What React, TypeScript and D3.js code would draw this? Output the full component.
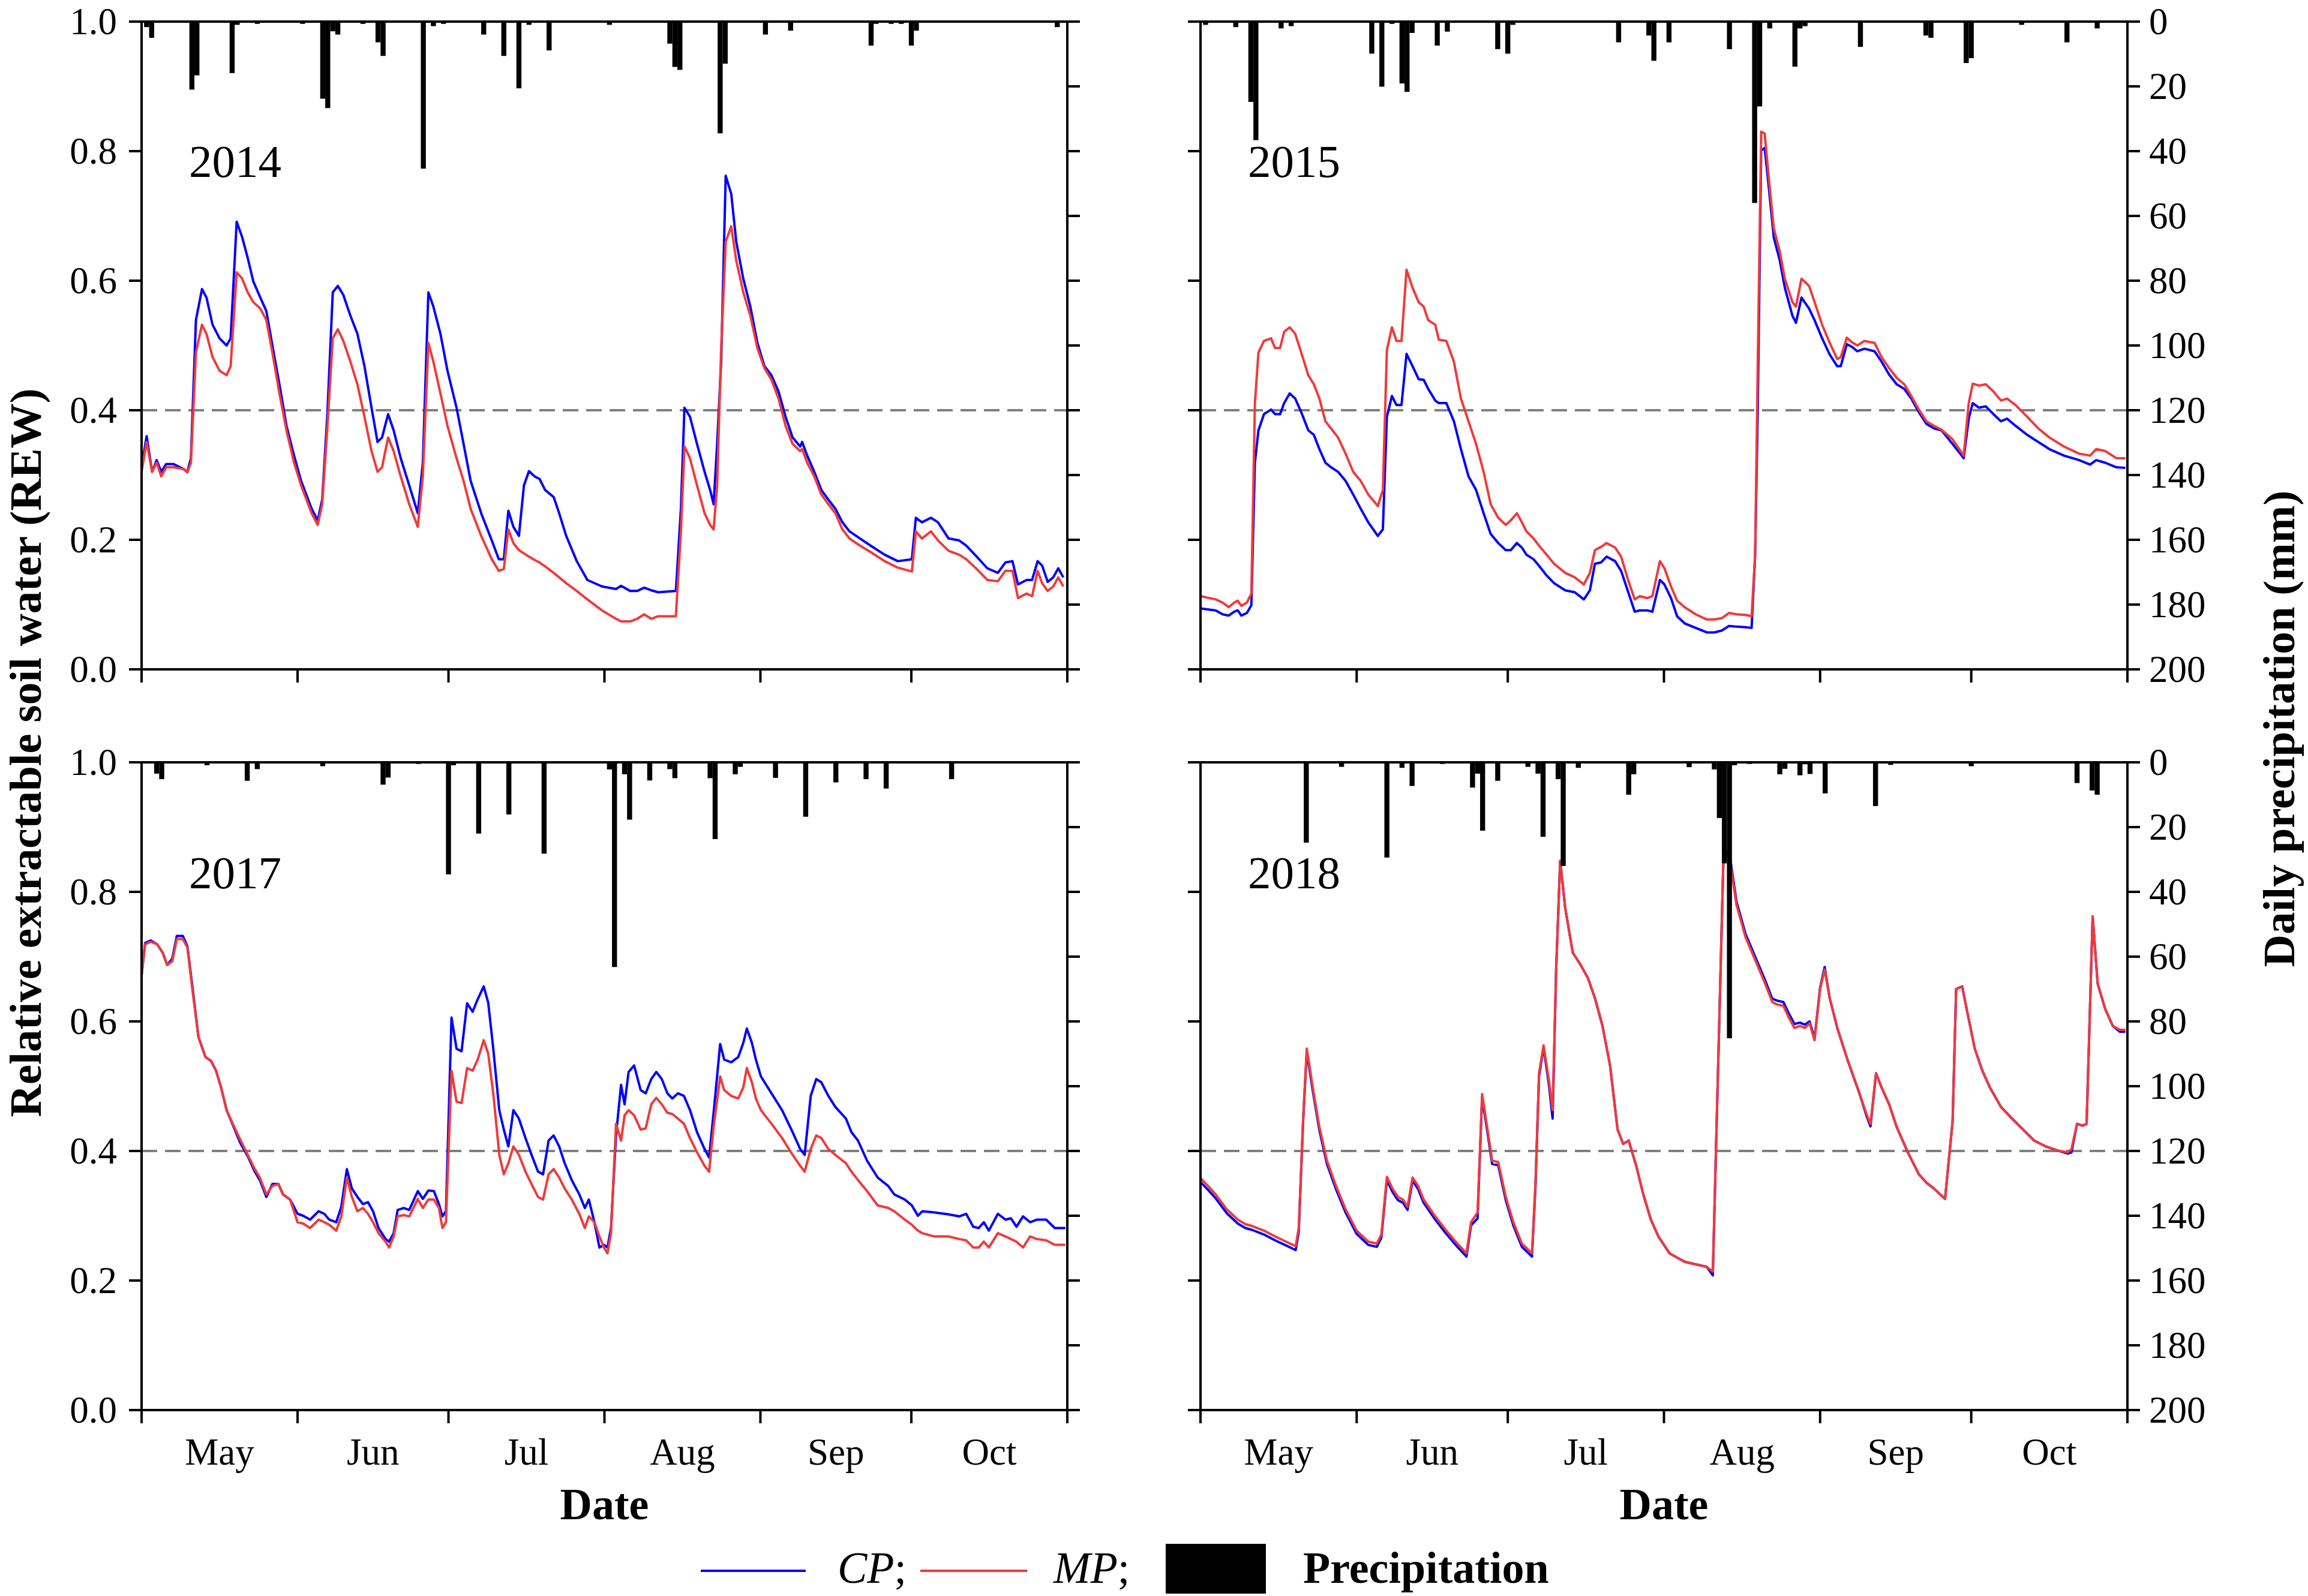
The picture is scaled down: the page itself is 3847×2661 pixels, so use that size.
import * as d3 from "d3";
import React from "react";

const WIDTH = 3847;
const HEIGHT = 2661;
const FONT = '"Liberation Serif", "Times New Roman", serif';

const monthNames = ["May", "Jun", "Jul", "Aug", "Sep", "Oct"];
const monthStarts = [0, 31, 61, 92, 123, 153, 184];
const rewTicks = [0, 0.2, 0.4, 0.6, 0.8, 1.0];
const rainTicks = [0, 20, 40, 60, 80, 100, 120, 140, 160, 180, 200];

// ---- 2014 ----
const days2014 = [
  0, 1.0, 2.1, 3.0, 3.9, 4.9, 6.3, 8.4, 9.1, 9.8,
  10.8, 12.0, 12.9, 14.1, 15.5, 16.9, 17.7, 18.9, 20.0, 21.1,
  22.2, 23.6, 24.8, 26.0, 27.4, 28.8, 30.3, 31.7, 33.8, 35.0,
  35.9, 36.9, 38.0, 39.0, 40.1, 41.5, 42.9, 44.3, 45.7, 46.9,
  47.8, 49.0, 50.1, 51.5, 53.2, 54.9, 55.9, 57.0, 58.0, 59.4,
  60.8, 62.6, 64.0, 65.4, 67.5, 69.6, 71.0, 72.0, 72.9, 73.9,
  75.0, 76.0, 77.0, 78.1, 79.1, 80.2, 81.9, 83.0, 84.4, 86.5,
  88.6, 91.5, 94.3, 95.3, 97.1, 98.5, 99.9, 101.3, 102.7, 106.2,
  107.2, 107.9, 109.0, 110.4, 111.9, 113.0, 113.7, 114.4, 115.2, 116.1,
  117.2, 118.2, 119.6, 121.0, 122.4, 123.8, 125.2, 126.6, 128.0, 129.4,
  130.9, 131.3, 132.3, 133.7, 135.1, 136.5, 137.9, 139.3, 140.7, 142.8,
  144.9, 147.7, 150.3, 153.1, 153.9, 155.1, 156.9, 158.3, 160.4, 162.5,
  163.9, 166.0, 168.1, 170.2, 171.7, 173.1, 174.2, 175.9, 177.0, 178.1,
  179.0, 180.1, 181.2, 182.2, 183.2,
];
const cp2014 = [
  0.312, 0.36, 0.305, 0.323, 0.305, 0.317, 0.317, 0.309, 0.305, 0.326,
  0.539, 0.587, 0.574, 0.532, 0.511, 0.5, 0.511, 0.691, 0.667, 0.635,
  0.599, 0.574, 0.553, 0.5, 0.44, 0.376, 0.33, 0.291, 0.248, 0.23,
  0.262, 0.39, 0.582, 0.592, 0.578, 0.546, 0.518, 0.468, 0.404, 0.351,
  0.358, 0.394, 0.369, 0.326, 0.284, 0.241, 0.319, 0.582, 0.56, 0.518,
  0.461, 0.404, 0.348, 0.291, 0.241, 0.199, 0.17, 0.17, 0.245, 0.22,
  0.206, 0.284, 0.306, 0.298, 0.294, 0.277, 0.266, 0.241, 0.206, 0.167,
  0.138, 0.128, 0.124, 0.129, 0.121, 0.121, 0.126, 0.122, 0.119, 0.121,
  0.248, 0.404, 0.39, 0.348, 0.305, 0.277, 0.255, 0.348, 0.475, 0.762,
  0.734, 0.66, 0.603, 0.56, 0.504, 0.468, 0.454, 0.429, 0.39, 0.358,
  0.344, 0.351, 0.33, 0.305, 0.277, 0.262, 0.248, 0.227, 0.213, 0.202,
  0.191, 0.177, 0.167, 0.17, 0.234, 0.227, 0.234, 0.227, 0.202, 0.199,
  0.191, 0.174, 0.156, 0.149, 0.165, 0.167, 0.131, 0.138, 0.138, 0.167,
  0.16, 0.135, 0.142, 0.156, 0.142,
];
const mp2014 = [
  0.305, 0.351, 0.305, 0.319, 0.298, 0.312, 0.312, 0.309, 0.304, 0.319,
  0.489, 0.532, 0.518, 0.482, 0.461, 0.454, 0.468, 0.613, 0.603, 0.582,
  0.567, 0.557, 0.539, 0.489, 0.426, 0.369, 0.319, 0.284, 0.241, 0.223,
  0.255, 0.37, 0.511, 0.525, 0.507, 0.475, 0.44, 0.39, 0.337, 0.305,
  0.312, 0.358, 0.337, 0.298, 0.255, 0.22, 0.298, 0.504, 0.475, 0.426,
  0.376, 0.326, 0.291, 0.248, 0.206, 0.17, 0.152, 0.155, 0.216, 0.195,
  0.184, 0.179, 0.174, 0.169, 0.165, 0.159, 0.149, 0.142, 0.133, 0.121,
  0.108, 0.091, 0.078, 0.074, 0.074, 0.078, 0.085, 0.078, 0.082, 0.082,
  0.213, 0.344, 0.326, 0.284, 0.241, 0.223, 0.216, 0.284, 0.496, 0.66,
  0.684, 0.631, 0.582, 0.546, 0.496, 0.465, 0.447, 0.418, 0.376, 0.348,
  0.337, 0.34, 0.319, 0.298, 0.27, 0.255, 0.241, 0.216, 0.202, 0.191,
  0.181, 0.167, 0.157, 0.151, 0.213, 0.202, 0.213, 0.199, 0.183, 0.177,
  0.17, 0.155, 0.138, 0.136, 0.152, 0.152, 0.11, 0.117, 0.113, 0.152,
  0.133, 0.121, 0.128, 0.142, 0.128,
];
const rainDays2014 = [
  1, 2, 10, 11, 18, 19, 23, 32, 36, 37, 38, 39, 44, 47, 48, 56, 58, 60, 68, 72,
  75, 77, 81, 93, 105, 106, 107, 115, 116, 124, 129, 145, 146, 149, 151, 153, 154, 182,
];
const rain2014 = [
  1.7, 5, 21, 16.6, 15.9, 1, 0.7, 0.7, 23.8, 26.7, 3, 4, 0.7, 6.4, 10.6, 45.4, 1.4, 0.7, 4, 10.6,
  20.6, 1, 8.9, 1, 6.8, 14, 14.9, 34.5, 13, 4, 2.8, 7.4, 0.7, 0.7, 0.7, 7.4, 2.8, 1.7,
];

// ---- 2015 ----
const days2015 = [
  0, 3.0, 4.4, 5.6, 6.7, 7.4, 8.1, 9.2, 10.1, 10.8,
  11.5, 12.6, 14.0, 14.8, 15.8, 16.6, 17.7, 18.8, 20.0, 21.4,
  22.5, 23.6, 24.8, 25.9, 27.3, 28.8, 30.3, 31.8, 33.3, 35.2,
  36.2, 37.0, 38.0, 38.9, 39.9, 40.9, 42.1, 43.3, 44.3, 45.2,
  46.6, 47.3, 48.8, 50.3, 51.7, 53.2, 54.7, 56.2, 57.6, 59.1,
  60.6, 61.6, 62.8, 63.8, 64.7, 66.1, 67.2, 68.7, 70.2, 72.4,
  74.3, 76.1, 77.3, 78.3, 79.5, 80.6, 82.3, 83.5, 85.0, 86.2,
  87.2, 88.7, 89.7, 91.2, 92.1, 93.4, 94.6, 96.1, 98.3, 100.5,
  102.0, 103.5, 104.9, 106.4, 108.2, 109.4, 110.1, 110.6, 111.3, 112.0,
  112.8, 113.8, 115.0, 116.0, 117.5, 118.2, 119.3, 120.8, 121.9, 123.4,
  124.9, 126.4, 127.1, 128.3, 129.3, 130.4, 131.8, 133.8, 135.2, 136.7,
  138.2, 139.7, 141.1, 142.6, 144.1, 145.6, 147.1, 149.3, 151.5, 152.5,
  153.3, 154.5, 155.9, 157.4, 158.9, 160.1, 161.8, 164.1, 166.3, 168.5,
  171.4, 174.4, 176.6, 177.8, 179.6, 181.8, 183.6,
];
const cp2015 = [
  0.094, 0.091, 0.085, 0.083, 0.089, 0.091, 0.083, 0.087, 0.099, 0.319,
  0.369, 0.394, 0.401, 0.394, 0.394, 0.411, 0.426, 0.418, 0.397, 0.369,
  0.362, 0.34, 0.319, 0.312, 0.305, 0.291, 0.27, 0.248, 0.227, 0.206,
  0.216, 0.39, 0.422, 0.408, 0.408, 0.487, 0.468, 0.448, 0.447, 0.433,
  0.415, 0.411, 0.411, 0.383, 0.34, 0.298, 0.277, 0.241, 0.209, 0.195,
  0.184, 0.184, 0.195, 0.188, 0.177, 0.17, 0.16, 0.145, 0.133, 0.122,
  0.119, 0.108, 0.122, 0.163, 0.165, 0.174, 0.167, 0.152, 0.117, 0.089,
  0.091, 0.091, 0.089, 0.138, 0.131, 0.11, 0.082, 0.071, 0.064, 0.057,
  0.057, 0.06, 0.067, 0.066, 0.065, 0.064, 0.177, 0.39, 0.801, 0.805,
  0.745, 0.667, 0.631, 0.589, 0.546, 0.535, 0.574, 0.557, 0.539, 0.511,
  0.486, 0.468, 0.468, 0.502, 0.498, 0.491, 0.495, 0.491, 0.475, 0.455,
  0.44, 0.433, 0.418, 0.397, 0.379, 0.372, 0.369, 0.348, 0.326, 0.387,
  0.411, 0.404, 0.406, 0.394, 0.383, 0.387, 0.376, 0.362, 0.351, 0.34,
  0.33, 0.323, 0.316, 0.323, 0.319, 0.312, 0.311,
];
const mp2015 = [
  0.113, 0.108, 0.103, 0.096, 0.103, 0.106, 0.098, 0.103, 0.117, 0.411,
  0.489, 0.507, 0.511, 0.496, 0.496, 0.521, 0.528, 0.518, 0.489, 0.454,
  0.44, 0.418, 0.383, 0.372, 0.358, 0.333, 0.305, 0.291, 0.27, 0.252,
  0.277, 0.493, 0.528, 0.507, 0.507, 0.617, 0.589, 0.567, 0.56, 0.539,
  0.532, 0.509, 0.507, 0.475, 0.418, 0.383, 0.348, 0.305, 0.255, 0.234,
  0.223, 0.23, 0.241, 0.227, 0.213, 0.202, 0.191, 0.177, 0.163, 0.149,
  0.142, 0.131, 0.149, 0.184, 0.189, 0.195, 0.188, 0.174, 0.135, 0.108,
  0.113, 0.11, 0.113, 0.167, 0.156, 0.128, 0.106, 0.096, 0.085, 0.077,
  0.077, 0.079, 0.087, 0.085, 0.084, 0.082, 0.177, 0.461, 0.83, 0.827,
  0.759, 0.681, 0.645, 0.603, 0.567, 0.56, 0.603, 0.592, 0.567, 0.532,
  0.504, 0.479, 0.482, 0.512, 0.505, 0.5, 0.507, 0.504, 0.482, 0.465,
  0.45, 0.44, 0.422, 0.401, 0.383, 0.376, 0.37, 0.355, 0.33, 0.411,
  0.441, 0.438, 0.44, 0.429, 0.415, 0.418, 0.408, 0.39, 0.372, 0.358,
  0.344, 0.333, 0.33, 0.34, 0.337, 0.326, 0.326,
];
const rainDays2015 = [
  1, 7, 10, 11, 16, 18, 34, 36, 38, 40, 41, 42, 47, 49, 59, 61, 62, 83, 89, 90,
  93, 105, 110, 111, 113, 118, 119, 120, 131, 144, 145, 152, 153, 163, 172, 178,
];
const rain2015 = [
  1, 1.7, 24.8, 36.6, 2.1, 1.4, 9.9, 20.1, 0.7, 19.1, 21.7, 3.5, 7.4, 3.1, 8.5, 9.9, 1, 6.4, 4.3, 12.1,
  6.4, 8.5, 56, 26.2, 2.1, 13.9, 2.1, 1.4, 7.8, 4.3, 5, 12.8, 11.3, 1, 6.4, 2.1,
];

// ---- 2017 ----
const days2017 = [
  0, 0.7, 1.8, 3.1, 4.2, 5.1, 6.1, 7.0, 8.2, 9.1,
  10.1, 11.3, 12.7, 13.8, 14.8, 15.8, 16.9, 18.3, 19.7, 21.1,
  22.5, 23.5, 24.8, 26.0, 27.2, 28.1, 29.5, 31.0, 32.1, 33.5,
  35.2, 36.3, 37.3, 38.7, 39.7, 40.8, 41.8, 42.9, 44.0, 45.0,
  46.0, 47.1, 48.5, 49.2, 50.1, 50.9, 52.1, 53.2, 54.9, 55.9,
  57.0, 58.1, 59.1, 59.8, 60.5, 61.6, 62.6, 63.6, 64.7, 65.8,
  66.8, 68.0, 68.9, 69.9, 71.1, 72.0, 72.9, 73.9, 75.0, 76.3,
  77.7, 78.8, 79.8, 80.9, 81.9, 83.0, 84.1, 85.5, 87.0, 88.1,
  88.9, 90.0, 91.0, 91.9, 92.6, 93.3, 94.3, 95.3, 96.0, 96.8,
  97.9, 99.2, 100.2, 101.3, 102.3, 103.4, 104.5, 105.5, 106.6, 107.8,
  109.0, 110.4, 111.9, 112.8, 113.7, 115.0, 115.8, 117.2, 118.6, 119.6,
  120.3, 121.3, 122.1, 123.1, 125.2, 127.3, 129.4, 130.9, 131.8, 133.0,
  134.1, 135.1, 136.5, 137.9, 140.0, 141.1, 142.4, 144.2, 146.3, 148.4,
  149.6, 151.7, 153.1, 154.3, 155.2, 157.6, 160.4, 162.5, 163.9, 165.3,
  166.4, 167.4, 168.4, 170.2, 171.7, 172.8, 173.9, 175.2, 176.6, 178.0,
  179.8, 181.5, 183.6,
];
const cp2017 = [
  0.671, 0.721, 0.725, 0.719, 0.706, 0.687, 0.697, 0.732, 0.732, 0.716,
  0.654, 0.576, 0.545, 0.539, 0.524, 0.498, 0.463, 0.437, 0.411, 0.392,
  0.368, 0.355, 0.329, 0.349, 0.349, 0.333, 0.325, 0.303, 0.3, 0.294,
  0.307, 0.303, 0.294, 0.29, 0.314, 0.372, 0.342, 0.329, 0.318, 0.321,
  0.307, 0.281, 0.264, 0.26, 0.273, 0.309, 0.312, 0.309, 0.338, 0.326,
  0.339, 0.338, 0.318, 0.299, 0.307, 0.606, 0.558, 0.554, 0.628, 0.615,
  0.634, 0.654, 0.629, 0.558, 0.463, 0.433, 0.407, 0.463, 0.45, 0.42,
  0.39, 0.368, 0.364, 0.416, 0.424, 0.407, 0.381, 0.355, 0.333, 0.312,
  0.325, 0.29, 0.251, 0.255, 0.251, 0.281, 0.424, 0.502, 0.472, 0.522,
  0.532, 0.494, 0.489, 0.511, 0.522, 0.511, 0.489, 0.481, 0.489, 0.485,
  0.463, 0.429, 0.403, 0.39, 0.459, 0.565, 0.541, 0.537, 0.545, 0.567,
  0.589, 0.567, 0.541, 0.515, 0.489, 0.463, 0.429, 0.403, 0.394, 0.485,
  0.511, 0.506, 0.485, 0.468, 0.45, 0.429, 0.416, 0.385, 0.359, 0.346,
  0.333, 0.325, 0.316, 0.3, 0.307, 0.305, 0.302, 0.299, 0.303, 0.283,
  0.281, 0.29, 0.277, 0.303, 0.294, 0.296, 0.283, 0.299, 0.29, 0.294,
  0.294, 0.281, 0.281,
];
const mp2017 = [
  0.671, 0.719, 0.723, 0.719, 0.706, 0.687, 0.693, 0.727, 0.727, 0.714,
  0.649, 0.576, 0.545, 0.539, 0.524, 0.498, 0.463, 0.439, 0.416, 0.394,
  0.372, 0.359, 0.333, 0.346, 0.349, 0.333, 0.325, 0.29, 0.288, 0.281,
  0.294, 0.29, 0.286, 0.277, 0.299, 0.359, 0.329, 0.307, 0.312, 0.303,
  0.29, 0.273, 0.26, 0.251, 0.268, 0.299, 0.301, 0.299, 0.326, 0.312,
  0.325, 0.325, 0.312, 0.281, 0.29, 0.524, 0.476, 0.474, 0.528, 0.524,
  0.541, 0.571, 0.55, 0.489, 0.394, 0.364, 0.381, 0.407, 0.394, 0.368,
  0.346, 0.329, 0.325, 0.364, 0.372, 0.359, 0.342, 0.325, 0.303, 0.281,
  0.299, 0.29, 0.268, 0.251, 0.242, 0.273, 0.442, 0.416, 0.455, 0.463,
  0.455, 0.433, 0.435, 0.472, 0.482, 0.472, 0.459, 0.457, 0.45, 0.442,
  0.42, 0.398, 0.377, 0.368, 0.437, 0.515, 0.494, 0.485, 0.481, 0.498,
  0.528, 0.506, 0.481, 0.463, 0.442, 0.42, 0.394, 0.377, 0.368, 0.403,
  0.424, 0.42, 0.403, 0.394, 0.381, 0.368, 0.355, 0.338, 0.316, 0.312,
  0.307, 0.294, 0.286, 0.277, 0.273, 0.268, 0.268, 0.264, 0.262, 0.251,
  0.251, 0.26, 0.251, 0.273, 0.268, 0.264, 0.26, 0.251, 0.268, 0.264,
  0.262, 0.255, 0.255,
];
const rainDays2017 = [
  3, 4, 13, 21, 23, 36, 48, 49, 55, 61, 62, 67, 73, 80, 93, 94, 96, 97, 101, 105,
  106, 113, 114, 118, 119, 126, 132, 138, 144, 148, 161,
];
const rain2017 = [
  3.5, 5.2, 0.9, 5.7, 2.1, 1.2, 6.9, 4.7, 0.5, 34.6, 0.9, 22, 16.1, 28.2, 2.2, 63.2, 3.7, 17.7, 5.6, 2.1,
  4.9, 4.9, 23.7, 3.7, 1.4, 4.8, 16.8, 6.2, 5.2, 8.1, 5.2,
];

// ---- 2018 ----
const days2018 = [
  0, 1.5, 3.0, 5.2, 7.4, 8.9, 10.3, 12.6, 14.8, 17.0,
  18.9, 19.5, 20.4, 21.1, 22.2, 23.6, 25.1, 26.9, 28.8, 31.0,
  33.3, 35.0, 35.9, 37.0, 38.1, 39.2, 40.2, 41.1, 42.1, 43.2,
  44.3, 46.6, 48.8, 51.0, 52.8, 53.7, 55.0, 55.9, 56.9, 57.9,
  59.1, 60.6, 62.1, 63.8, 65.8, 66.5, 67.2, 68.1, 69.2, 69.9,
  70.6, 71.4, 72.4, 73.9, 75.4, 76.9, 78.3, 79.8, 81.3, 82.8,
  83.9, 85.0, 86.5, 87.9, 89.4, 90.9, 93.1, 96.1, 98.3, 100.5,
  101.7, 103.8, 104.9, 106.4, 108.2, 110.1, 112.0, 113.5, 114.5, 115.7,
  116.8, 117.9, 119.0, 120.0, 120.9, 121.9, 123.0, 123.9, 124.9, 126.4,
  128.6, 130.8, 132.3, 133.0, 134.1, 135.2, 136.7, 138.2, 140.4, 142.6,
  144.1, 145.6, 147.8, 149.3, 150.0, 151.2, 152.2, 153.7, 155.2, 156.7,
  158.9, 161.1, 163.3, 165.5, 167.8, 170.0, 172.2, 172.9, 174.0, 175.1,
  175.9, 177.1, 178.1, 179.6, 181.1, 182.5, 183.6,
];
const cp2018 = [
  0.352, 0.34, 0.327, 0.304, 0.288, 0.281, 0.278, 0.271, 0.262, 0.254,
  0.247, 0.275, 0.45, 0.553, 0.497, 0.432, 0.38, 0.341, 0.305, 0.272,
  0.255, 0.252, 0.266, 0.355, 0.337, 0.324, 0.32, 0.309, 0.354, 0.341,
  0.32, 0.294, 0.272, 0.252, 0.237, 0.285, 0.296, 0.483, 0.432, 0.38,
  0.378, 0.324, 0.285, 0.252, 0.237, 0.346, 0.515, 0.56, 0.5, 0.45,
  0.68, 0.848, 0.775, 0.706, 0.688, 0.667, 0.636, 0.593, 0.532, 0.433,
  0.411, 0.416, 0.377, 0.333, 0.294, 0.268, 0.242, 0.229, 0.225, 0.221,
  0.208, 0.85, 0.865, 0.785, 0.735, 0.7, 0.665, 0.635, 0.632, 0.63,
  0.612, 0.596, 0.598, 0.595, 0.6, 0.574, 0.652, 0.684, 0.636, 0.59,
  0.537, 0.489, 0.452, 0.438, 0.52, 0.498, 0.472, 0.437, 0.398, 0.364,
  0.351, 0.342, 0.326, 0.446, 0.65, 0.654, 0.615, 0.558, 0.524, 0.498,
  0.468, 0.45, 0.433, 0.416, 0.407, 0.401, 0.396, 0.398, 0.442, 0.439,
  0.442, 0.762, 0.658, 0.619, 0.593, 0.584, 0.584,
];
const mp2018 = [
  0.358, 0.346, 0.333, 0.31, 0.294, 0.287, 0.284, 0.277, 0.268, 0.26,
  0.253, 0.281, 0.455, 0.558, 0.502, 0.437, 0.385, 0.346, 0.31, 0.277,
  0.26, 0.257, 0.271, 0.36, 0.342, 0.329, 0.325, 0.314, 0.359, 0.346,
  0.325, 0.299, 0.277, 0.257, 0.242, 0.29, 0.305, 0.488, 0.437, 0.385,
  0.383, 0.329, 0.29, 0.257, 0.242, 0.351, 0.52, 0.563, 0.507, 0.463,
  0.68, 0.848, 0.775, 0.706, 0.688, 0.667, 0.636, 0.593, 0.532, 0.433,
  0.411, 0.416, 0.377, 0.333, 0.294, 0.268, 0.242, 0.229, 0.225, 0.221,
  0.214, 0.85, 0.86, 0.78, 0.73, 0.695, 0.66, 0.63, 0.626, 0.624,
  0.606, 0.59, 0.593, 0.59, 0.597, 0.571, 0.65, 0.68, 0.636, 0.59,
  0.537, 0.489, 0.455, 0.442, 0.52, 0.498, 0.472, 0.437, 0.398, 0.364,
  0.351, 0.342, 0.326, 0.446, 0.65, 0.654, 0.615, 0.558, 0.524, 0.498,
  0.468, 0.45, 0.433, 0.416, 0.407, 0.401, 0.398, 0.403, 0.442, 0.439,
  0.442, 0.762, 0.658, 0.619, 0.593, 0.587, 0.587,
];
const rainDays2018 = [
  10, 21, 28, 37, 40, 42, 48, 54, 55, 56, 59, 65, 67, 68, 71, 72, 75, 85, 86, 97,
  102, 103, 104, 105, 106, 109, 115, 116, 119, 120, 121, 124, 134, 137, 153, 174, 177, 178,
];
const rain2018 = [
  0.3, 24.8, 1.4, 29.4, 1.7, 7.3, 0.5, 7.8, 3.5, 21.1, 5.7, 1.4, 3.5, 23, 5.2, 32, 1.7, 10, 3.7, 1.5,
  2.2, 17.2, 31.2, 85.2, 0.9, 0.5, 3.7, 2, 4, 0.6, 3.6, 9.6, 13.5, 0.8, 1.2, 6.4, 8.7, 10,
];

const CP_COLOR = "#0000ff";
const MP_COLOR = "#f03a3a";
const AXIS_W = 4;
const TICK = 21;

type PanelProps = {
  year: string;
  days: number[];
  cp: number[];
  mp: number[];
  rainDays: number[];
  rainMm: number[];
  left: number;
  right: number;
  top: number;
  bottom: number;
  yearBaseline: number;
  showRew: boolean;
  showRain: boolean;
  showMonths: boolean;
};

const Panel: React.FC<PanelProps> = ({
  year, days, cp, mp, rainDays, rainMm,
  left, right, top, bottom, yearBaseline,
  showRew, showRain, showMonths,
}) => {
  const x = d3.scaleLinear().domain([0, 184]).range([left, right]);
  const y = d3.scaleLinear().domain([0, 1]).range([bottom, top]);
  const p = d3.scaleLinear().domain([0, 200]).range([top, bottom]);
  const line = d3
    .line<number>()
    .x((_, i) => x(days[i]))
    .y((d) => y(d));
  const barW = x(1) - x(0);

  return (
    <g>
      {/* threshold */}
      <line
        x1={left}
        x2={right}
        y1={y(0.4)}
        y2={y(0.4)}
        stroke="#808080"
        strokeWidth={4}
        strokeDasharray="26 13"
      />
      <path d={line(cp) ?? ""} fill="none" stroke={CP_COLOR} strokeWidth={4} strokeLinejoin="round" />
      <path d={line(mp) ?? ""} fill="none" stroke={MP_COLOR} strokeWidth={4} strokeLinejoin="round" />

      {rainDays.map((d, i) => (
        <rect
          key={i}
          x={x(d) - barW / 2}
          y={p(0)}
          width={barW}
          height={p(rainMm[i]) - p(0)}
          fill="#000"
        />
      ))}

      {/* frame */}
      <g stroke="#000" strokeWidth={AXIS_W} strokeLinecap="square">
        <line x1={left} x2={right} y1={top} y2={top} />
        <line x1={left} x2={right} y1={bottom} y2={bottom} />
        <line x1={left} x2={left} y1={top} y2={bottom} />
        <line x1={right} x2={right} y1={top} y2={bottom} />
      </g>
      <g stroke="#000" strokeWidth={AXIS_W}>
        {rewTicks.map((t) => (
          <line key={"l" + t} x1={left - TICK} x2={left} y1={y(t)} y2={y(t)} />
        ))}
        {rainTicks.map((t) => (
          <line key={"r" + t} x1={right} x2={right + TICK} y1={p(t)} y2={p(t)} />
        ))}
        {monthStarts.map((m) => (
          <line key={"m" + m} x1={x(m)} x2={x(m)} y1={bottom} y2={bottom + 22} />
        ))}
      </g>

      {showRew &&
        rewTicks.map((t) => (
          <text
            key={"lt" + t}
            x={left - TICK - 20}
            y={y(t)}
            dy="0.34em"
            textAnchor="end"
            fontSize={63}
          >
            {t.toFixed(1)}
          </text>
        ))}
      {showRain &&
        rainTicks.map((t) => (
          <text
            key={"rt" + t}
            x={right + TICK + 15}
            y={p(t)}
            dy="0.34em"
            textAnchor="start"
            fontSize={63}
          >
            {t}
          </text>
        ))}
      {showMonths && (
        <>
          {monthNames.map((m, i) => (
            <text
              key={m}
              x={x((monthStarts[i] + monthStarts[i + 1]) / 2)}
              y={bottom + 91}
              textAnchor="middle"
              fontSize={63}
            >
              {m}
            </text>
          ))}
          <text
            x={(left + right) / 2}
            y={bottom + 182}
            textAnchor="middle"
            fontSize={74}
            fontWeight="bold"
          >
            Date
          </text>
        </>
      )}

      <text x={left + 79} y={yearBaseline} fontSize={77}>
        {year}
      </text>
    </g>
  );
};

const App: React.FC = () => {
  const L1 = 236;
  const R1 = 1779;
  const L2 = 2001;
  const R2 = 3546;
  const T1 = 31;
  const B1 = 1111;
  const T2 = 1266;
  const B2 = 2346;

  return (
    <svg
      width={WIDTH}
      height={HEIGHT}
      viewBox={`0 0 ${WIDTH} ${HEIGHT}`}
      style={{ position: "absolute", left: 0, top: 0, background: "#fff" }}
      fontFamily={FONT}
    >
      <rect x={0} y={0} width={WIDTH} height={HEIGHT} fill="#fff" />
      <g transform="translate(0,5)">
        <Panel year="2014" days={days2014} cp={cp2014} mp={mp2014}
          rainDays={rainDays2014} rainMm={rain2014}
          left={L1} right={R1} top={T1} bottom={B1} yearBaseline={290}
          showRew showRain={false} showMonths={false} />
        <Panel year="2015" days={days2015} cp={cp2015} mp={mp2015}
          rainDays={rainDays2015} rainMm={rain2015}
          left={L2} right={R2} top={T1} bottom={B1} yearBaseline={290}
          showRew={false} showRain showMonths={false} />
        <Panel year="2017" days={days2017} cp={cp2017} mp={mp2017}
          rainDays={rainDays2017} rainMm={rain2017}
          left={L1} right={R1} top={T2} bottom={B2} yearBaseline={1476}
          showRew showRain={false} showMonths />
        <Panel year="2018" days={days2018} cp={cp2018} mp={mp2018}
          rainDays={rainDays2018} rainMm={rain2018}
          left={L2} right={R2} top={T2} bottom={B2} yearBaseline={1476}
          showRew={false} showRain showMonths />

        {/* axis titles */}
        <text
          transform="translate(68,1250) rotate(-90)"
          textAnchor="middle"
          fontSize={75}
          fontWeight="bold"
        >
          Relative extractable soil water (REW)
        </text>
        <text
          transform="translate(3824,1210) rotate(-90)"
          textAnchor="middle"
          fontSize={75}
          fontWeight="bold"
        >
          Daily precipitation (mm)
        </text>

        {/* legend */}
        <line x1={1168} x2={1343} y1={2614} y2={2614} stroke={CP_COLOR} strokeWidth={4} />
        <text x={1396} y={2634} fontSize={74}>
          <tspan fontStyle="italic">CP</tspan>;
        </text>
        <line x1={1534} x2={1712} y1={2614} y2={2614} stroke={MP_COLOR} strokeWidth={4} />
        <text x={1756} y={2634} fontSize={74}>
          <tspan fontStyle="italic">MP</tspan>;
        </text>
        <rect x={1943} y={2569} width={167} height={83} fill="#000" />
        <text x={2172} y={2634} fontSize={74} fontWeight="bold">
          Precipitation
        </text>
      </g>
    </svg>
  );
};

export default App;
